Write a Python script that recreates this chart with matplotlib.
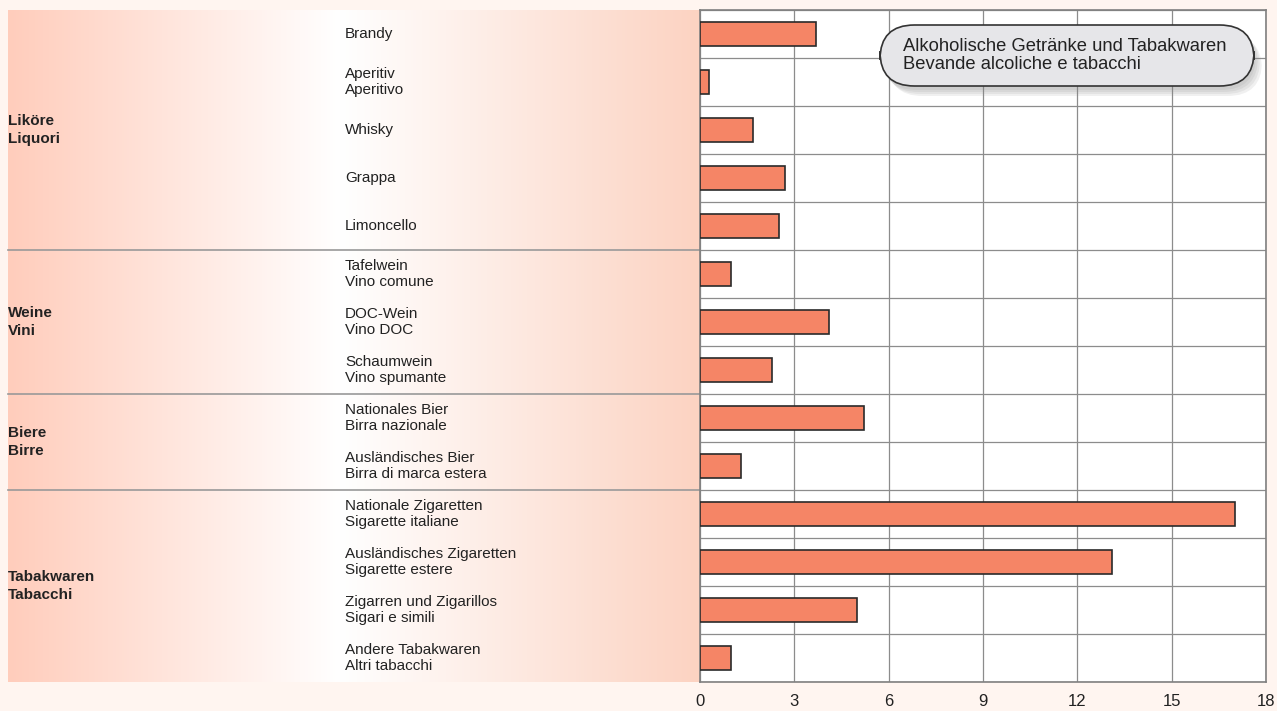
import matplotlib
matplotlib.use("Agg")
import matplotlib.pyplot as plt
import numpy as np
from matplotlib.patches import FancyBboxPatch
from matplotlib.colors import LinearSegmentedColormap
import matplotlib.transforms as mtransforms

plt.rcParams['font.family'] = ['Liberation Sans', 'DejaVu Sans']

items = [
    "Brandy", "Aperitiv\nAperitivo", "Whisky", "Grappa", "Limoncello",
    "Tafelwein\nVino comune", "DOC-Wein\nVino DOC", "Schaumwein\nVino spumante",
    "Nationales Bier\nBirra nazionale", "Ausländisches Bier\nBirra di marca estera",
    "Nationale Zigaretten\nSigarette italiane", "Ausländisches Zigaretten\nSigarette estere",
    "Zigarren und Zigarillos\nSigari e simili", "Andere Tabakwaren\nAltri tabacchi",
]
values = [3.7, 0.3, 1.7, 2.7, 2.5, 1.0, 4.1, 2.3, 5.2, 1.3, 17.0, 13.1, 5.0, 1.0]
groups = ["Liköre\nLiquori", "Weine\nVini", "Biere\nBirre", "Tabakwaren\nTabacchi"]
group_sizes = [5, 3, 2, 4]
xticks = [0, 3, 6, 9, 12, 15, 18]
legend_text = "Alkoholische Getränke und Tabakwaren\nBevande alcoliche e tabacchi"

W, H = 1277, 711
fig = plt.figure(figsize=(W / 100, H / 100), dpi=100)
fig.patch.set_facecolor("#fff5f0")

def fx(px):
    return px / W

def fy(py):
    return 1 - py / H

top, bottom = 10, 682
# gradient panel
gax = fig.add_axes([fx(8), fy(bottom), fx(700 - 8), (bottom - top) / H])
gax.set_axis_off()
cmap = LinearSegmentedColormap.from_list(
    "g", [(0.0, "#ffcdbc"), (0.48, "#ffffff"), (1.0, "#fcd3c2")])
grad = np.linspace(0, 1, 512)[None, :]
gax.imshow(grad, aspect="auto", cmap=cmap, extent=[0, 1, 0, 1])
gax.set_xlim(0, 1)
gax.set_ylim(0, 1)

ax = fig.add_axes([fx(700), fy(bottom), fx(1266 - 700), (bottom - top) / H])
ax.set_facecolor("white")
n = len(items)
ypos = np.arange(n)
ax.barh(ypos, values, height=0.5, color="#f58566", edgecolor="#2a2a2a",
        linewidth=1.2, zorder=3)
ax.set_xlim(0, 18)
ax.set_ylim(n - 0.5, -0.5)
ax.set_xticks(xticks)
ax.set_xticklabels([str(t) for t in xticks], fontsize=12, color="#222222")
ax.tick_params(axis="x", length=0, pad=9)
ax.set_yticks([])
ax.set_yticks(np.arange(-0.5, n, 1), minor=True)
ax.tick_params(axis="y", which="both", length=0)
ax.grid(axis="x", color="#8c8c8c", linewidth=0.9, zorder=0)
ax.grid(axis="y", which="minor", color="#8c8c8c", linewidth=0.9, zorder=0)
for s in ax.spines.values():
    s.set_color("#808080")
    s.set_linewidth(1.2)

trans = mtransforms.blended_transform_factory(fig.transFigure, ax.transData)
for i, lab in enumerate(items):
    ax.text(fx(345), i, lab, transform=trans, ha="left", va="center",
            fontsize=11, color="#222222", linespacing=1.2, clip_on=False)

start = 0
for g, sz in zip(groups, group_sizes):
    center = start + (sz - 1) / 2
    ax.text(fx(8), center, g, transform=trans, ha="left", va="center",
            fontsize=11, fontweight="bold", color="#222222", linespacing=1.3,
            clip_on=False)
    end = start + sz
    if end < n:
        ax.plot([fx(8), fx(700)], [end - 0.5, end - 0.5], transform=trans,
                color="#999999", linewidth=1.2, clip_on=False, zorder=2)
    start = end

# legend box with shadow
bx0, by0, bx1, by1 = 880, 25, 1254, 86
for k in range(4):
    d = 2 + 2 * k
    sh = FancyBboxPatch((fx(bx0 + d), fy(by1 + d + 2)), fx(bx1 - bx0), (by1 - by0) / H,
                        boxstyle="round,pad=0,rounding_size=0.027",
                        transform=fig.transFigure, facecolor="#888888",
                        edgecolor="none", alpha=0.12, mutation_aspect=W / H,
                        zorder=5)
    fig.patches.append(sh)
box = FancyBboxPatch((fx(bx0), fy(by1)), fx(bx1 - bx0), (by1 - by0) / H,
                     boxstyle="round,pad=0,rounding_size=0.027",
                     transform=fig.transFigure, facecolor="#e6e6e9",
                     edgecolor="#333333", linewidth=1.2, mutation_aspect=W / H,
                     zorder=6)
fig.patches.append(box)
fig.text(fx(903), fy((by0 + by1) / 2), legend_text, ha="left", va="center",
         fontsize=13.2, color="#222222", linespacing=1.12, zorder=7)

fig.savefig("out.png", dpi=100, facecolor=fig.get_facecolor())
